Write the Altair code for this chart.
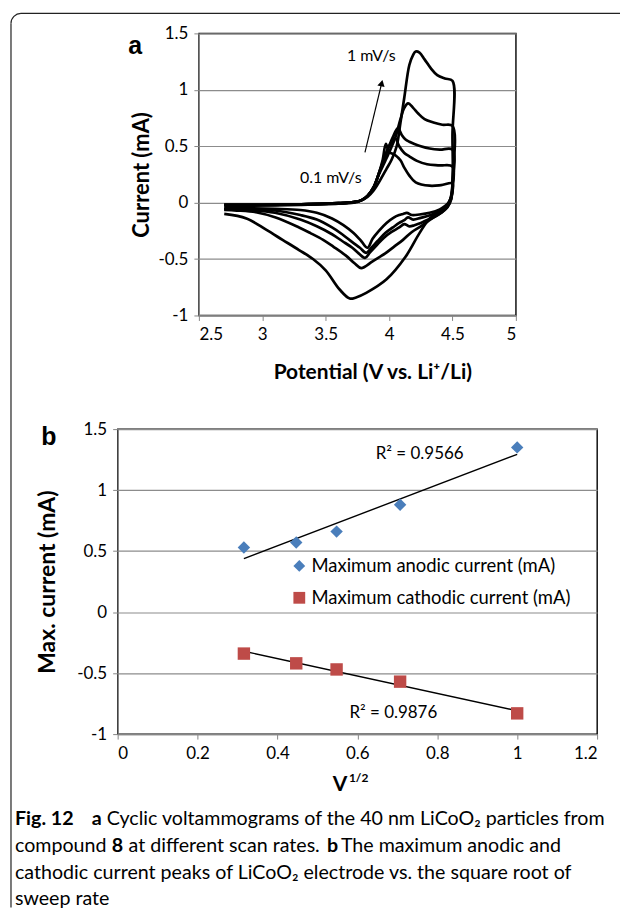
import altair as alt
import pandas as pd

FONT = "Lato"
ARIAL = "Liberation Sans"

# ---------------- Panel a : cyclic voltammograms ----------------
scan_rates = ["0.1 mV/s", "0.2 mV/s", "0.3 mV/s", "0.5 mV/s", "1 mV/s"]

v_01 = [2.70, 3.00, 3.30, 3.60, 3.72, 3.78, 3.83, 3.88, 3.92, 3.95, 3.975, 4.00, 4.05, 4.09, 4.12, 4.16, 4.21, 4.32, 4.41, 4.50,
        4.50, 4.49, 4.47, 4.44, 4.40, 4.32, 4.24, 4.18, 4.14, 4.11, 4.08, 4.04, 3.98, 3.92, 3.87, 3.83, 3.78, 3.72, 3.64, 3.55, 3.43, 3.30, 3.10, 2.90, 2.70]
i_01 = [-0.02, -0.02, -0.015, -0.005, 0.005, 0.02, 0.06, 0.14, 0.26, 0.38, 0.52, 0.45, 0.42, 0.375, 0.31, 0.24, 0.18, 0.15, 0.155, 0.17,
        0.10, 0.05, 0.0, -0.03, -0.06, -0.09, -0.105, -0.11, -0.09, -0.10, -0.11, -0.13, -0.18, -0.25, -0.32, -0.40, -0.34, -0.27, -0.20, -0.14, -0.09, -0.065, -0.055, -0.05, -0.05]

v_02 = [2.70, 3.00, 3.30, 3.60, 3.72, 3.78, 3.83, 3.88, 3.92, 3.96, 4.00, 4.03, 4.05, 4.08, 4.12, 4.16, 4.22, 4.30, 4.40, 4.50,
        4.50, 4.49, 4.47, 4.44, 4.40, 4.33, 4.25, 4.19, 4.15, 4.12, 4.08, 4.03, 3.97, 3.91, 3.86, 3.82, 3.77, 3.71, 3.63, 3.55, 3.43, 3.30, 3.10, 2.90, 2.70]
i_02 = [-0.02, -0.02, -0.015, -0.005, 0.005, 0.02, 0.06, 0.14, 0.26, 0.39, 0.50, 0.555, 0.57, 0.50, 0.44, 0.41, 0.37, 0.34, 0.33, 0.32,
        0.12, 0.05, 0.0, -0.04, -0.07, -0.11, -0.135, -0.15, -0.13, -0.155, -0.18, -0.22, -0.27, -0.34, -0.40, -0.445, -0.40, -0.35, -0.28, -0.22, -0.15, -0.11, -0.07, -0.06, -0.055]

v_03 = [2.70, 3.00, 3.30, 3.60, 3.72, 3.78, 3.83, 3.88, 3.92, 3.96, 4.00, 4.03, 4.07, 4.10, 4.13, 4.16, 4.20, 4.25, 4.32, 4.40, 4.50,
        4.50, 4.49, 4.46, 4.41, 4.35, 4.27, 4.20, 4.16, 4.12, 4.08, 4.02, 3.96, 3.90, 3.85, 3.81, 3.76, 3.71, 3.63, 3.55, 3.43, 3.30, 3.10, 2.90, 2.70]
i_03 = [-0.02, -0.02, -0.015, -0.005, 0.005, 0.02, 0.06, 0.14, 0.26, 0.38, 0.50, 0.58, 0.66, 0.60, 0.56, 0.54, 0.52, 0.50, 0.48, 0.47, 0.47,
        0.15, 0.03, -0.04, -0.09, -0.13, -0.17, -0.20, -0.21, -0.19, -0.22, -0.26, -0.31, -0.38, -0.44, -0.49, -0.45, -0.40, -0.34, -0.28, -0.21, -0.15, -0.09, -0.065, -0.06]

v_05 = [2.70, 3.00, 3.30, 3.60, 3.72, 3.78, 3.83, 3.88, 3.92, 3.97, 4.01, 4.05, 4.09, 4.12, 4.15, 4.19, 4.23, 4.28, 4.35, 4.42, 4.50,
        4.50, 4.49, 4.46, 4.41, 4.34, 4.25, 4.18, 4.11, 4.04, 3.97, 3.87, 3.78, 3.73, 3.66, 3.56, 3.48, 3.38, 3.29, 3.10, 2.95, 2.80, 2.70]
i_05 = [-0.02, -0.02, -0.015, -0.005, 0.005, 0.02, 0.06, 0.14, 0.25, 0.37, 0.47, 0.58, 0.74, 0.84, 0.88, 0.84, 0.79, 0.74, 0.71, 0.69, 0.68,
        0.2, 0.03, -0.04, -0.09, -0.14, -0.21, -0.26, -0.33, -0.39, -0.45, -0.52, -0.58, -0.54, -0.47, -0.39, -0.33, -0.27, -0.22, -0.13, -0.085, -0.07, -0.065]

v_10 = [2.70, 3.00, 3.30, 3.60, 3.72, 3.78, 3.83, 3.88, 3.93, 3.98, 4.02, 4.06, 4.09, 4.12, 4.16, 4.19, 4.21, 4.24, 4.28, 4.33, 4.38, 4.44, 4.50,
        4.50, 4.50, 4.48, 4.44, 4.39, 4.32, 4.24, 4.13, 3.98, 3.82, 3.74, 3.69, 3.61, 3.50, 3.40, 3.29, 3.16, 3.03, 2.875, 2.70]
i_10 = [-0.03, -0.025, -0.02, -0.01, 0.0, 0.02, 0.05, 0.11, 0.20, 0.30, 0.38, 0.50, 0.71, 0.93, 1.22, 1.31, 1.34, 1.33, 1.27, 1.19, 1.13, 1.10, 1.08,
        0.6, 0.15, 0.02, -0.05, -0.09, -0.14, -0.27, -0.48, -0.68, -0.80, -0.84, -0.85, -0.77, -0.60, -0.50, -0.42, -0.33, -0.24, -0.14, -0.10]

x_ticks_a = [2.5, 3, 3.5, 4, 4.5, 5]
y_ticks = [-1, -0.5, 0, 0.5, 1, 1.5]

rows = []
for rate, vs, cs in zip(scan_rates, [v_01, v_02, v_03, v_05, v_10], [i_01, i_02, i_03, i_05, i_10]):
    for k, (v, c) in enumerate(zip(vs, cs)):
        rows.append({"rate": rate, "k": k, "V": v, "I": c})
df_a = pd.DataFrame(rows)

# ---------------- Panel b : peak currents ----------------
sqrt_rate = [0.316, 0.447, 0.548, 0.707, 1.0]
anodic = [0.53, 0.57, 0.66, 0.88, 1.35]
cathodic = [-0.34, -0.42, -0.47, -0.57, -0.83]
series_names = ["Maximum anodic current (mA)", "Maximum cathodic current (mA)"]
x_ticks_b = [0, 0.2, 0.4, 0.6, 0.8, 1, 1.2]

df_b = pd.DataFrame(
    [{"x": x, "y": y, "series": series_names[0]} for x, y in zip(sqrt_rate, anodic)]
    + [{"x": x, "y": y, "series": series_names[1]} for x, y in zip(sqrt_rate, cathodic)]
)

one = pd.DataFrame({"k": [0]})

SPACING = 114          # vertical gap between the two plot areas
CAP = 19.7             # caption font size


def txt(s, x, y, size=CAP, bold=False, align="left", font=FONT, baseline="middle"):
    return alt.Chart(one).mark_text(
        text=s, align=align, baseline=baseline, font=font, fontSize=size,
        fontWeight="bold" if bold else "normal", color="black"
    ).encode(x=alt.value(x), y=alt.value(y))


def dtxt(s, x, y, size=16):
    return alt.Chart(one).mark_text(
        text=s, align="center", baseline="middle", font=FONT, fontSize=size, color="black"
    ).encode(x=alt.datum(x), y=alt.datum(y))


label_expr = "'' + datum.value"

xa = alt.X("V:Q", scale=alt.Scale(domain=[2.5, 5], nice=False, zero=False),
           axis=alt.Axis(values=x_ticks_a, labelExpr=label_expr, title="Potential (V vs. Li⁺/Li)",
                         titleX=174, titleY=57, titleBaseline="middle", titleFontSize=21, grid=False))
ya = alt.Y("I:Q", scale=alt.Scale(domain=[-1, 1.5], nice=False, zero=False),
           axis=alt.Axis(values=y_ticks, labelExpr=label_expr, title="Current (mA)", grid=True,
                         titleX=-58, titleY=141.5, titleBaseline="middle", titleFontSize=22))

cv = alt.Chart(df_a).mark_line(color="black", strokeWidth=2.7, strokeJoin="round",
                               interpolate="catmull-rom").encode(
    x=xa, y=ya, detail="rate:N", order=alt.Order("k:Q"))

arrow_line = alt.Chart(one).mark_rule(color="black", strokeWidth=1.2).encode(
    x=alt.datum(3.81), y=alt.datum(0.445), x2=alt.datum(3.942), y2=alt.datum(1.06))
arrow_head = alt.Chart(one).mark_point(shape="triangle-up", filled=True, size=55, angle=13.5,
                                      color="black", opacity=1).encode(
    x=alt.datum(3.942), y=alt.datum(1.059))

panel_a = alt.layer(
    cv,
    arrow_line,
    arrow_head,
    dtxt("1 mV/s", 3.86, 1.30),
    dtxt("0.1 mV/s", 3.54, 0.22),
    txt("a", -64, 13, size=25, bold=True, align="center", font=ARIAL),
).properties(width=318, height=283)

# ---------------- Panel b layers ----------------
xb = alt.X("x:Q", scale=alt.Scale(domain=[0, 1.2], nice=False, zero=False),
           axis=alt.Axis(values=x_ticks_b, labelExpr=label_expr, title=None, grid=False))
yb = alt.Y("y:Q", scale=alt.Scale(domain=[-1, 1.5], nice=False, zero=False),
           axis=alt.Axis(values=y_ticks, labelExpr=label_expr, title="Max. current (mA)", grid=True,
                         titleX=-70, titleY=153, titleBaseline="middle", titleFontSize=23))

# legend is placed relative to the top-left of the whole layout (panel a's top row)
leg = alt.Legend(orient="none", legendX=173, legendY=283 + SPACING + 128, title=None, labelFont=FONT,
                 labelFontSize=18.5, labelColor="black", symbolSize=140, rowPadding=13,
                 labelOffset=3, padding=0, symbolStrokeWidth=0, labelLimit=400)

pts = alt.Chart(df_b).mark_point(filled=True, size=155, opacity=1).encode(
    x=xb, y=yb,
    color=alt.Color("series:N", scale=alt.Scale(domain=series_names, range=["#4A7EBB", "#BE4B48"]), legend=leg),
    shape=alt.Shape("series:N", scale=alt.Scale(domain=series_names, range=["diamond", "square"]), legend=leg),
)

trend = alt.Chart(df_b).transform_regression("x", "y", groupby=["series"]).mark_line(
    color="black", strokeWidth=1.4).encode(x=xb, y=yb, detail="series:N")

# positions relative to panel b origin (abs 116, 427)
cap = [
    txt("Fig. 12", -103, 391, bold=True),
    txt("a", -26, 391, bold=True),
    txt("Cyclic voltammograms of the 40 nm LiCoO₂ particles from", -11, 391),
    txt("compound", -103, 418),
    txt("8", -6, 418, bold=True),
    txt("at different scan rates.", 11, 418),
    txt("b", 210, 418, bold=True),
    txt("The maximum anodic and", 224, 418),
    txt("cathodic current peaks of LiCoO₂ electrode vs. the square root of", -103, 445),
    txt("sweep rate", -103, 471),
]

border = [
    alt.Chart(one).mark_rule(color="white", strokeWidth=1).encode(
        x=alt.value(-108), x2=alt.value(-104), y=alt.value(-419)),
    alt.Chart(one).mark_rule(color="#222222", strokeWidth=1.2).encode(
        x=alt.value(-97), x2=alt.value(504), y=alt.value(-417)),
    alt.Chart(one).mark_rule(color="#222222", strokeWidth=1.2).encode(
        x=alt.value(-107), y=alt.value(-407), y2=alt.value(480)),
    alt.Chart(one).mark_arc(color="#222222", radius=10.6, radius2=9.4, theta=4.712, theta2=6.283).encode(
        x=alt.value(-97), y=alt.value(-407)),
]

panel_b = alt.layer(
    trend,
    pts,
    dtxt("R² = 0.9566", 0.756, 1.293, size=17),
    dtxt("R² = 0.9876", 0.690, -0.831, size=17),
    txt("b", -69, 8, size=25, bold=True, align="center", font=ARIAL),
    txt("V", 223, 357, size=21, bold=True, align="center"),
    txt("1/2", 232, 350, size=12, bold=True),
    *cap,
    *border,
).properties(width=481, height=306)

chart = alt.vconcat(panel_a, panel_b, spacing=SPACING, bounds="flush", center=True).properties(
    padding=0
).configure_view(stroke="black", strokeWidth=1.4).configure_axis(
    labelFont=FONT, labelFontSize=17, labelColor="black", titleFont=FONT, titleFontWeight="bold",
    titleColor="black", domainColor="#868686", domainWidth=1.2, tickColor="#868686", tickSize=5,
    gridColor="#8c8c8c", gridWidth=1.2, labelPadding=6
)

chart.save("out.html", embed_options={"renderer": "svg", "actions": False})
